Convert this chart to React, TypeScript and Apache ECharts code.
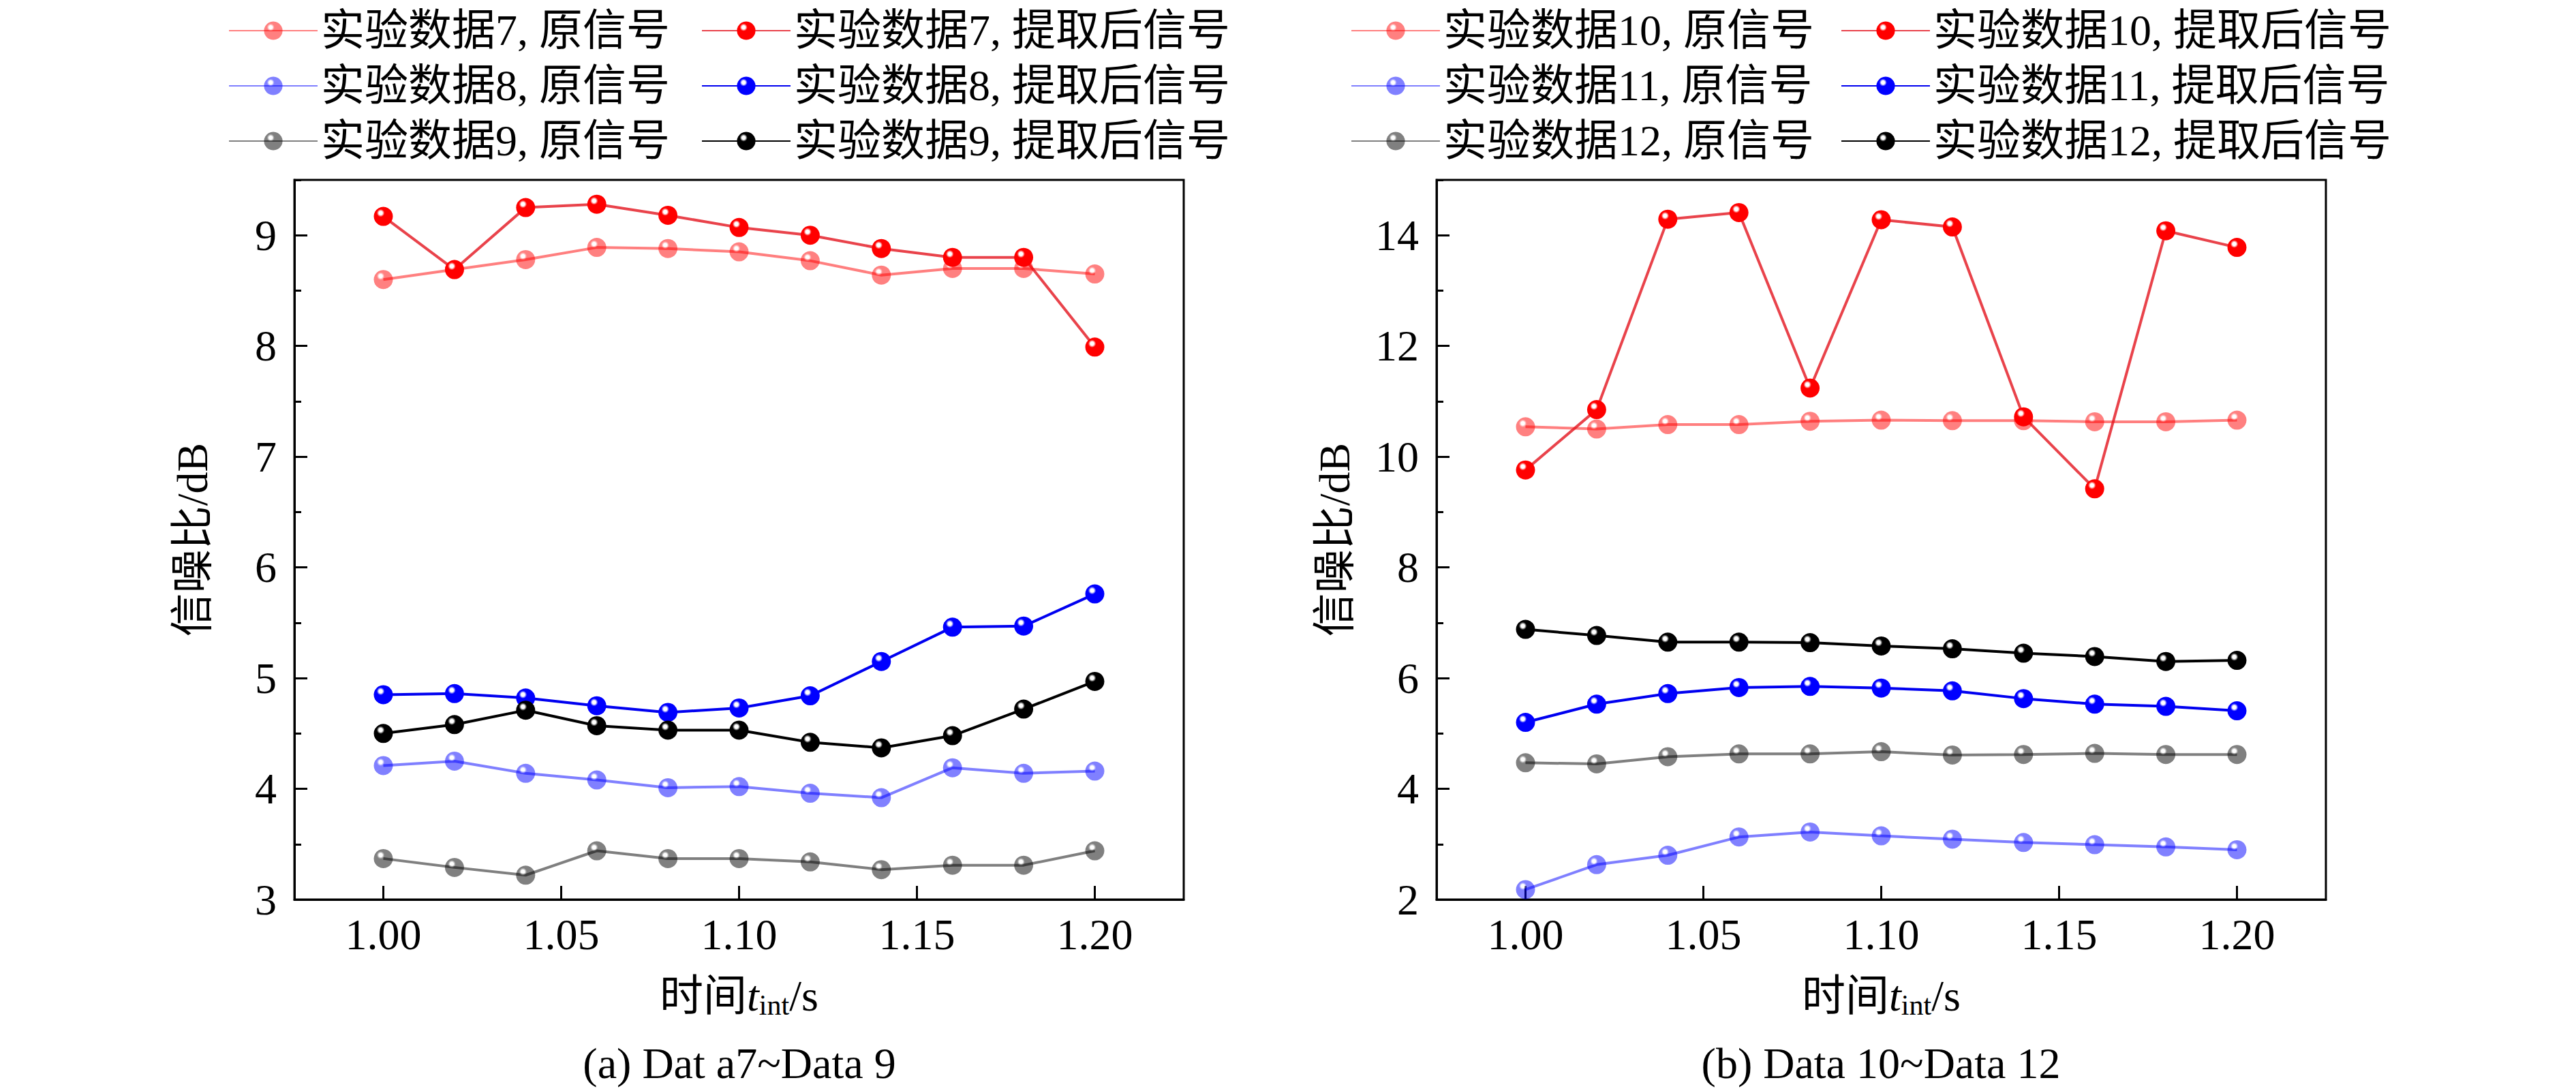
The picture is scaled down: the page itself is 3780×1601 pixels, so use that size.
import * as echarts from "echarts";
import { useEffect, useRef } from "react";

const times = [1.0, 1.02, 1.04, 1.06, 1.08, 1.1, 1.12, 1.14, 1.16, 1.18, 1.2];
const xTicks = [1.0, 1.05, 1.1, 1.15, 1.2];

// (a) 실험 데이터 7~9
const orig7 = [8.6, 8.69, 8.78, 8.89, 8.88, 8.85, 8.77, 8.64, 8.7, 8.7, 8.65];
const extr7 = [9.17, 8.69, 9.25, 9.28, 9.18, 9.07, 9.0, 8.88, 8.8, 8.8, 7.99];
const orig8 = [4.21, 4.25, 4.14, 4.08, 4.01, 4.02, 3.96, 3.92, 4.19, 4.14, 4.16];
const extr8 = [4.85, 4.86, 4.82, 4.75, 4.69, 4.73, 4.84, 5.15, 5.46, 5.47, 5.76];
const orig9 = [3.37, 3.29, 3.22, 3.44, 3.37, 3.37, 3.34, 3.27, 3.31, 3.31, 3.44];
const extr9 = [4.5, 4.58, 4.71, 4.57, 4.53, 4.53, 4.42, 4.37, 4.48, 4.72, 4.97];

// (b) 실험 데이터 10~12
const orig10 = [10.54, 10.5, 10.58, 10.58, 10.64, 10.66, 10.65, 10.65, 10.63, 10.63, 10.66];
const extr10 = [9.76, 10.85, 14.29, 14.41, 11.24, 14.28, 14.15, 10.72, 9.42, 14.08, 13.78];
const orig11 = [2.18, 2.63, 2.8, 3.13, 3.22, 3.15, 3.09, 3.03, 2.99, 2.95, 2.9];
const extr11 = [5.2, 5.53, 5.72, 5.83, 5.85, 5.82, 5.77, 5.63, 5.53, 5.49, 5.41];
const orig12 = [4.47, 4.45, 4.58, 4.63, 4.63, 4.67, 4.61, 4.62, 4.64, 4.62, 4.62];
const extr12 = [6.88, 6.77, 6.65, 6.65, 6.64, 6.58, 6.53, 6.45, 6.39, 6.3, 6.32];

const FONT = "'Liberation Serif', 'Noto Sans CJK SC', serif";
const FS = 64;

const ball = (base: string, hi: string) =>
  new echarts.graphic.RadialGradient(0.36, 0.32, 0.68, [
    { offset: 0, color: hi },
    { offset: 0.14, color: hi },
    { offset: 0.3, color: base },
    { offset: 1, color: base },
  ]);

type Look = [string, string, string];

function line(name: string, vals: number[], grid: number, [base, lineColor, hi]: Look) {
  return {
    type: "line",
    name,
    xAxisIndex: grid,
    yAxisIndex: grid * 2,
    data: times.map((t, i) => [t, vals[i]]),
    symbol: "circle",
    symbolSize: 28,
    lineStyle: { color: lineColor, width: 4 },
    itemStyle: { color: ball(base, hi), borderWidth: 0 },
    z: 3,
  };
}

// 원신호는 반투명, 추출 후 신호는 진한 색
const RED_L: Look = ["rgba(255,0,0,0.5)", "rgba(255,0,0,0.5)", "rgba(255,255,255,0.6)"];
const BLUE_L: Look = ["rgba(0,0,255,0.5)", "rgba(0,0,255,0.5)", "rgba(255,255,255,0.6)"];
const GRAY_L: Look = ["rgba(0,0,0,0.5)", "rgba(0,0,0,0.5)", "rgba(255,255,255,0.6)"];
const RED: Look = ["#ff0000", "rgba(228,20,30,0.8)", "#ffffff"];
const BLUE: Look = ["#0000ff", "#0000f0", "#ffffff"];
const BLACK: Look = ["#000000", "#000000", "#ffffff"];

function axesFor(grid: number, min: number, max: number, step: number) {
  const main = {
    type: "value",
    gridIndex: grid,
    position: "left",
    min,
    max,
    interval: step,
    name: "信噪比/dB",
    nameLocation: "middle",
    nameGap: 118,
    nameRotate: 90,
    nameTextStyle: { fontFamily: FONT, fontSize: FS, color: "#000" },
    axisLine: { show: true, lineStyle: { color: "#000", width: 3 } },
    axisTick: { show: true, inside: true, length: 19, lineStyle: { color: "#000", width: 3 } },
    axisLabel: { fontFamily: FONT, fontSize: FS, color: "#000", margin: 26, showMaxLabel: false },
    splitLine: { show: false },
  };
  const minor = {
    type: "value",
    gridIndex: grid,
    position: "left",
    min,
    max,
    interval: step / 2,
    axisLine: { show: false },
    axisTick: { show: true, inside: true, length: 10, lineStyle: { color: "#000", width: 3 } },
    axisLabel: { show: false },
    splitLine: { show: false },
  };
  return [main, minor];
}

function xAxisFor(grid: number) {
  return {
    type: "value",
    gridIndex: grid,
    min: 0.975,
    max: 1.225,
    name: "时间{it|t}{sub|int}/s",
    nameLocation: "middle",
    nameGap: 106,
    nameTextStyle: {
      fontFamily: FONT,
      fontSize: FS,
      color: "#000",
      rich: {
        it: { fontFamily: FONT, fontSize: FS, fontStyle: "italic", color: "#000" },
        sub: { fontFamily: FONT, fontSize: 42, color: "#000", padding: [28, 0, 0, 0] },
      },
    },
    axisLine: { show: true, onZero: false, lineStyle: { color: "#000", width: 3 } },
    axisTick: { show: true, inside: true, length: 20, customValues: xTicks, lineStyle: { color: "#000", width: 3 } },
    axisLabel: {
      fontFamily: FONT,
      fontSize: FS,
      color: "#000",
      margin: 19,
      customValues: xTicks,
      formatter: (v: number) => v.toFixed(2),
    },
    splitLine: { show: false },
  };
}

function legend(left: number, names: string[]) {
  return {
    left,
    top: 8,
    orient: "vertical",
    itemWidth: 130,
    itemHeight: 34,
    itemGap: 17,
    data: names,
    textStyle: { fontFamily: FONT, fontSize: FS, color: "#000", lineHeight: 60 },
    selectedMode: false,
  };
}

export default function App() {
  const box = useRef<HTMLDivElement>(null);

  useEffect(() => {
    if (!box.current) return;
    const c = echarts.init(box.current, undefined, { renderer: "svg" });
    const n = (k: number, o: boolean) => `实验数据${k}, ${o ? "原信号" : "提取后信号"}`;
    c.setOption({
      animation: false,
      backgroundColor: "#fff",
      grid: [
        { left: 432, top: 264, width: 1305, height: 1056, show: true, borderColor: "#000", borderWidth: 3 },
        { left: 2108, top: 264, width: 1305, height: 1056, show: true, borderColor: "#000", borderWidth: 3 },
      ],
      xAxis: [xAxisFor(0), xAxisFor(1)],
      yAxis: [...axesFor(0, 3, 9.5, 1), ...axesFor(1, 2, 15, 2)],
      legend: [
        legend(330, [n(7, true), n(8, true), n(9, true)]),
        legend(1024, [n(7, false), n(8, false), n(9, false)]),
        legend(1977, [n(10, true), n(11, true), n(12, true)]),
        legend(2696, [n(10, false), n(11, false), n(12, false)]),
      ],
      series: [
        line(n(7, true), orig7, 0, RED_L),
        line(n(8, true), orig8, 0, BLUE_L),
        line(n(9, true), orig9, 0, GRAY_L),
        line(n(7, false), extr7, 0, RED),
        line(n(8, false), extr8, 0, BLUE),
        line(n(9, false), extr9, 0, BLACK),
        line(n(10, true), orig10, 1, RED_L),
        line(n(11, true), orig11, 1, BLUE_L),
        line(n(12, true), orig12, 1, GRAY_L),
        line(n(10, false), extr10, 1, RED),
        line(n(11, false), extr11, 1, BLUE),
        line(n(12, false), extr12, 1, BLACK),
      ],
      graphic: [
        {
          type: "text",
          x: 1085,
          y: 1560,
          style: { text: "(a) Dat a7~Data 9", fontFamily: FONT, fontSize: FS, fill: "#000", align: "center", verticalAlign: "middle" },
        },
        {
          type: "text",
          x: 2760,
          y: 1560,
          style: { text: "(b) Data 10~Data 12", fontFamily: FONT, fontSize: FS, fill: "#000", align: "center", verticalAlign: "middle" },
        },
      ],
    });
    return () => c.dispose();
  }, []);

  return (
    <div
      ref={box}
      style={{ position: "absolute", left: 0, top: 0, width: 3780, height: 1601, background: "#fff" }}
    />
  );
}
